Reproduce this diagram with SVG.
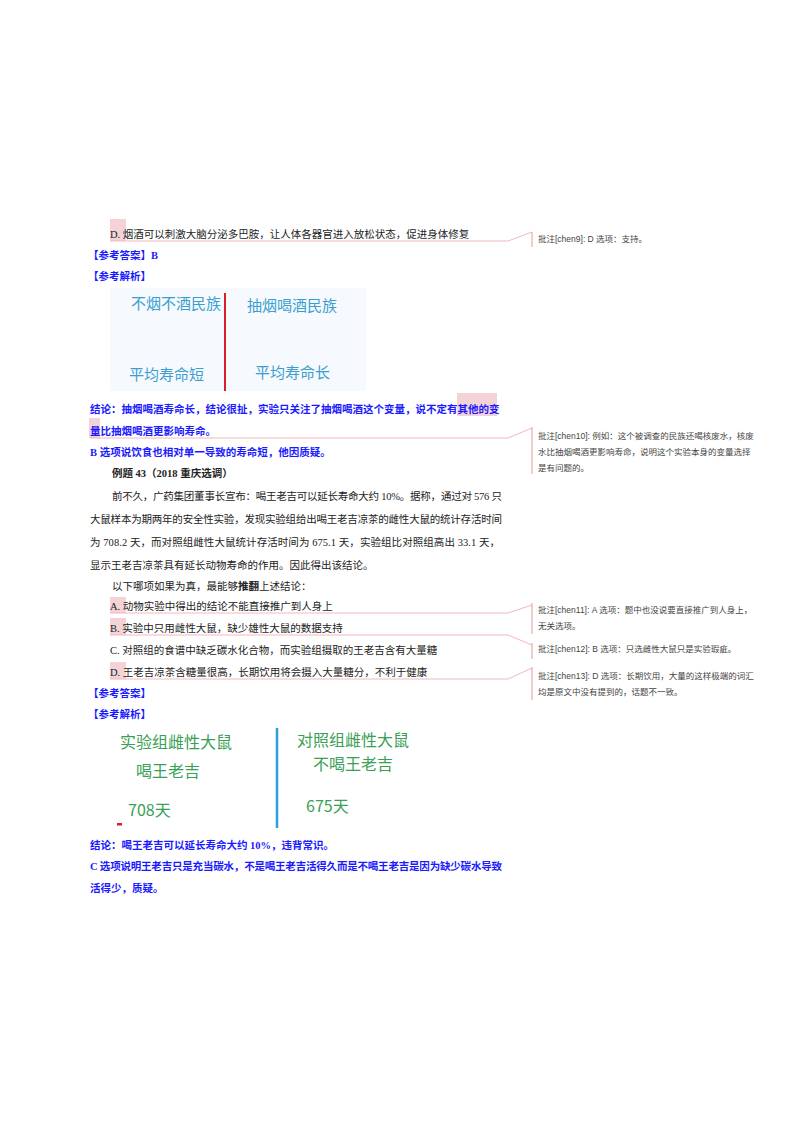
<svg xmlns="http://www.w3.org/2000/svg" width="800" height="1132" viewBox="0 0 800 1132">
<style>
.t{font-family:"Liberation Serif","Noto Sans CJK SC",serif;font-size:10.5px;fill:#222}
.b{font-family:"Liberation Serif","Noto Sans CJK SC",serif;font-size:10.5px;fill:#1a1aff;font-weight:bold}
.c{font-family:"Liberation Sans","Noto Sans CJK SC",sans-serif;font-size:8.5px;fill:#444}
.hl{fill:#f0c8cc;opacity:.8}
.ln{fill:none;stroke:#f0b8bc;stroke-width:1}
.bar{stroke:#e8a8ac;stroke-width:1.2}
.p1{font-family:"Noto Sans CJK SC",sans-serif;font-size:15px;fill:#3a9fd0}
.p2{font-family:"Noto Sans CJK SC",sans-serif;font-size:16px;fill:#3aa055}
</style>
<rect width="800" height="1132" fill="#fff"/>
<g id="highlights">
<rect class="hl" x="110" y="219" width="16" height="22"/>
<rect class="hl" x="457" y="393" width="40" height="23"/>
<rect class="hl" x="89" y="418" width="11" height="20"/>
<rect class="hl" x="110" y="597" width="16" height="16"/>
<rect class="hl" x="110" y="618" width="16" height="17"/>
<rect class="hl" x="110" y="662" width="16" height="17"/>
</g>
<g id="connectors">
<polyline class="ln" points="110,241 508,241 532,232"/>
<polyline class="ln" points="90,438 508,438 532,428"/>
<polyline class="ln" points="110,613 508,613 532,605"/>
<polyline class="ln" points="110,635 508,635 532,645"/>
<polyline class="ln" points="110,679 508,679 532,668"/>
<line class="bar" x1="532" y1="232" x2="532" y2="247"/>
<line class="bar" x1="532" y1="427" x2="532" y2="474"/>
<line class="bar" x1="532" y1="603" x2="532" y2="634"/>
<line class="bar" x1="532" y1="643" x2="532" y2="659"/>
<line class="bar" x1="532" y1="667" x2="532" y2="700"/>
</g>
<g id="comments">
<text class="c" x="538" y="242">批注[chen9]: D 选项：支持。</text>
<text class="c" x="538" y="439">批注[chen10]: 例如：这个被调查的民族还喝核废水，核废</text>
<text class="c" x="538" y="455">水比抽烟喝酒更影响寿命，说明这个实验本身的变量选择</text>
<text class="c" x="538" y="471">是有问题的。</text>
<text class="c" x="538" y="613">批注[chen11]: A 选项：题中也没说要直接推广到人身上，</text>
<text class="c" x="538" y="629">无关选项。</text>
<text class="c" x="538" y="652">批注[chen12]: B 选项：只选雌性大鼠只是实验瑕疵。</text>
<text class="c" x="538" y="679">批注[chen13]: D 选项：长期饮用，大量的这样极端的词汇</text>
<text class="c" x="538" y="695">均是原文中没有提到的，话题不一致。</text>
</g>
<g id="text1">
<text class="t" x="110" y="238">D. 烟酒可以刺激大脑分泌多巴胺，让人体各器官进入放松状态，促进身体修复</text>
<text class="b" x="88" y="259">【参考答案】B</text>
<text class="b" x="88" y="280">【参考解析】</text>
</g>
<g id="image1">
<rect x="110" y="288" width="256" height="103" fill="#f6f9fd"/>
<line x1="225" y1="293" x2="225" y2="391" stroke="#d8202a" stroke-width="2"/>
<text class="p1" x="131" y="309">不烟不酒民族</text>
<text class="p1" x="247" y="311">抽烟喝酒民族</text>
<text class="p1" x="129" y="380">平均寿命短</text>
<text class="p1" x="255" y="378">平均寿命长</text>
</g>
<g id="text2">
<text class="b" x="90" y="413">结论：抽烟喝酒寿命长，结论很扯，实验只关注了抽烟喝酒这个变量，说不定有其他的变</text>
<text class="b" x="90" y="435">量比抽烟喝酒更影响寿命。</text>
<text class="b" x="90" y="456">B 选项说饮食也相对单一导致的寿命短，他因质疑。</text>
<text class="t" x="112" y="477" font-weight="bold">例题 43（2018 重庆选调）</text>
<text class="t" x="112" y="500" textLength="390">前不久，广药集团董事长宣布：喝王老吉可以延长寿命大约 10%。据称，通过对 576 只</text>
<text class="t" x="90" y="523" textLength="412">大鼠样本为期两年的安全性实验，发现实验组给出喝王老吉凉茶的雌性大鼠的统计存活时间</text>
<text class="t" x="90" y="546" textLength="410">为 708.2 天，而对照组雌性大鼠统计存活时间为 675.1 天，实验组比对照组高出 33.1 天，</text>
<text class="t" x="90" y="569">显示王老吉凉茶具有延长动物寿命的作用。因此得出该结论。</text>
<text class="t" x="112" y="590">以下哪项如果为真，最能够<tspan font-weight="bold">推翻</tspan>上述结论：</text>
<text class="t" x="110" y="610">A. 动物实验中得出的结论不能直接推广到人身上</text>
<text class="t" x="110" y="632">B. 实验中只用雌性大鼠，缺少雄性大鼠的数据支持</text>
<text class="t" x="110" y="654">C. 对照组的食谱中缺乏碳水化合物，而实验组摄取的王老吉含有大量糖</text>
<text class="t" x="110" y="676">D. 王老吉凉茶含糖量很高，长期饮用将会摄入大量糖分，不利于健康</text>
<text class="b" x="88" y="697">【参考答案】</text>
<text class="b" x="88" y="718">【参考解析】</text>
</g>
<g id="image2">
<line x1="277" y1="728" x2="277" y2="828" stroke="#2a9fd8" stroke-width="2.5"/>
<text class="p2" x="120" y="748">实验组雌性大鼠</text>
<text class="p2" x="136" y="777">喝王老吉</text>
<text class="p2" x="128" y="816" fill="#d8303a">708天</text>
<rect x="117" y="823" width="5" height="2.5" fill="#d8202a"/>
<text class="p2" x="297" y="746">对照组雌性大鼠</text>
<text class="p2" x="313" y="770">不喝王老吉</text>
<text class="p2" x="306" y="812">675天</text>
</g>
<g id="text3">
<text class="b" x="90" y="849">结论：喝王老吉可以延长寿命大约 10%，违背常识。</text>
<text class="b" x="90" y="870" textLength="412">C 选项说明王老吉只是充当碳水，不是喝王老吉活得久而是不喝王老吉是因为缺少碳水导致</text>
<text class="b" x="90" y="892">活得少，质疑。</text>
</g>
</svg>
